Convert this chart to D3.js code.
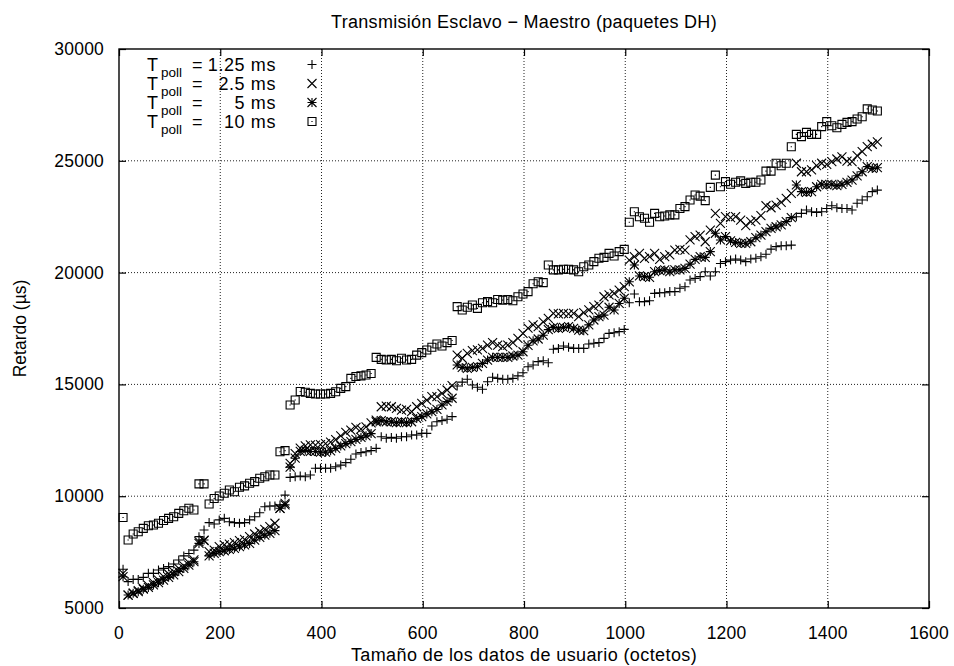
<!DOCTYPE html>
<html>
<head>
<meta charset="utf-8">
<script src="https://cdn.jsdelivr.net/npm/d3@7"></script>
<style>
  body { margin: 0; background: #fff; }
  text { font-family: "Liberation Sans", Arial, Helvetica, sans-serif; fill: #000; }
</style>
</head>
<body>
<div id="main"></div>
<script>
// tamaño de los datos de usuario (octetos)
const tamanos = [8,18,28,38,48,58,68,78,88,98,108,118,128,138,148,158,168,178,188,198,
208,218,228,238,248,258,268,278,288,298,308,318,328,338,348,358,368,378,388,398,
408,418,428,438,448,458,468,478,488,498,508,518,528,538,548,558,568,578,588,598,
608,618,628,638,648,658,668,678,688,698,708,718,728,738,748,758,768,778,788,798,
808,818,828,838,848,858,868,878,888,898,908,918,928,938,948,958,968,978,988,998,
1008,1018,1028,1038,1048,1058,1068,1078,1088,1098,1108,1118,1128,1138,1148,1158,1168,1178,1188,1198,
1208,1218,1228,1238,1248,1258,1268,1278,1288,1298,1308,1318,1328,1338,1348,1358,1368,1378,1388,1398,
1408,1418,1428,1438,1448,1458,1468,1478,1488,1498]

// retardo (us) para cada Tpoll
const retardo125 = [6730,6180,6280,6280,6370,6550,6550,6700,6770,6850,
6970,7150,7330,7440,7590,8190,8490,8820,8760,8940,
9010,8860,8820,8790,8820,8940,9080,9260,9530,9560,
9560,9610,10050,10840,10870,10900,10870,10950,11250,11250,
11250,11250,11320,11390,11500,11650,11890,11950,11990,12040,
12140,12660,12590,12630,12590,12660,12660,12740,12740,12810,
12810,13140,13330,13380,13440,13560,14930,15100,15230,14970,
14870,14780,15120,15320,15270,15230,15230,15270,15380,15520,
15790,15870,16020,16060,15970,16570,16610,16720,16660,16610,
16610,16610,16810,16840,16870,17060,17280,17310,17360,17460,
18650,19040,18700,18700,18740,19070,19100,19100,19150,19150,
19300,19370,19670,19740,19820,20040,19850,20040,20410,20490,
20560,20610,20560,20490,20610,20640,20710,20820,21050,21160,
21200,21200,21230,22500,22650,22800,22720,22690,22720,22870,
22990,22900,22870,22870,22800,23100,23250,23390,23620,23690]

const retardo25 = [6550,5580,5660,5780,5880,6000,6130,6250,6400,6520,
6630,6770,6880,7030,7150,7970,8010,7520,7590,7740,
7820,7860,7920,8010,8070,8190,8310,8410,8520,8640,
8790,9460,9680,11470,11900,12150,12250,12300,12280,12310,
12350,12420,12530,12700,12850,12960,13080,13000,13100,13280,
13400,14000,14030,14000,13930,13850,13880,13780,14000,14150,
14300,14450,14450,14600,14750,14950,16310,16170,16390,16510,
16540,16610,16760,16870,16760,16690,16760,16870,17060,17280,
17520,17660,17580,17800,17950,18180,18150,18180,18150,18180,
18030,18210,18330,18480,18550,18920,19000,19070,19220,19370,
20560,20710,20860,20640,20710,20860,20590,20710,20790,21010,
21040,21010,21460,21610,21680,21380,21900,22650,22200,22500,
22460,22500,22350,22100,22280,22350,22550,22990,22900,23020,
23140,23320,23540,24890,24510,24510,24590,24780,24890,24840,
24960,25080,25180,24990,24960,25230,25410,25630,25740,25850]

const retardo5 = [6400,5580,5660,5730,5840,5920,6030,6130,6250,6370,
6480,6630,6770,6920,7070,7890,8040,7330,7440,7520,
7560,7620,7670,7740,7820,7890,8040,8160,8260,8340,
8460,9460,9610,11300,11700,12000,12050,12000,12000,11970,
11970,12030,12140,12250,12350,12440,12540,12630,12700,12800,
13330,13380,13330,13330,13290,13330,13290,13330,13480,13560,
13680,13780,13880,14080,14230,14380,15870,15760,15720,15760,
15790,15940,16090,16210,16210,16210,16210,16270,16310,16460,
16750,16950,17030,17200,17450,17550,17510,17550,17580,17510,
17430,17400,17660,17880,18030,18100,18450,18330,18620,18850,
19590,20340,19850,19820,19790,20040,20090,20120,20040,20120,
20120,20190,20380,20590,20710,20680,20940,21760,21460,21610,
21420,21350,21310,21310,21380,21560,21680,21830,21980,22050,
22130,22280,22460,23920,23620,23590,23620,23840,23950,23920,
23950,23890,23950,24040,24140,24330,24510,24740,24660,24690]

const retardo10 = [9050,8040,8310,8410,8560,8680,8710,8790,8910,9010,
9080,9230,9350,9460,9380,10550,10550,9650,9900,10010,
10130,10280,10200,10400,10460,10580,10650,10800,10870,10950,
10950,11990,12040,14080,14300,14680,14650,14600,14570,14570,
14570,14600,14670,14820,14900,15270,15350,15380,15420,15490,
16210,16120,16090,16120,16060,16170,16090,16120,16310,16420,
16540,16660,16810,16720,16870,16960,18480,18330,18450,18550,
18400,18650,18700,18650,18800,18770,18800,18740,18920,19040,
19150,19500,19590,19550,20340,20120,20120,20150,20150,20120,
20040,20260,20340,20490,20640,20680,20860,20740,20940,21040,
22250,22720,22500,22430,22250,22650,22500,22530,22580,22580,
22870,22950,23250,23470,23420,23220,23810,24360,23840,24070,
23950,24040,24100,23990,24040,24040,24140,24540,24540,24890,
24780,24890,25630,26180,26080,26270,26180,26180,26530,26750,
26570,26480,26630,26720,26750,26870,26970,27320,27270,27230]

const leyenda = ["1.25 ms", "2.5 ms", "5 ms", "10 ms"]
const xTicks = [0,200,400,600,800,1000,1200,1400,1600]
const yTicks = [5000,10000,15000,20000,25000,30000]

const chart = {
    width: 954,
    height: 666,
    left: 119,
    right: 929,
    top: 49,
    bottom: 608
}

// formas de los puntos (estilo gnuplot)
const s = 4.5
const q = 4
const simbolos = [
    `M${-s},0H${s}M0,${-s}V${s}`,
    `M${-s},${-s}L${s},${s}M${-s},${s}L${s},${-s}`,
    `M${-s},0H${s}M0,${-s}V${s}M${-s},${-s}L${s},${s}M${-s},${s}L${s},${-s}`,
    `M${-q},${-q}H${q}V${q}H${-q}Z M-0.6,0H0.6`
]

function initViz()
{
    let svg = d3.select("#main").append("svg")
        .attr("width", chart.width)
        .attr("height", chart.height)

    svg.append("rect").attr("width", chart.width).attr("height", chart.height).attr("fill", "#fff")

    let x = d3.scaleLinear().domain([0, 1600]).range([chart.left, chart.right])
    let y = d3.scaleLinear().domain([5000, 30000]).range([chart.bottom, chart.top])

    // rejilla punteada
    svg.append("g").selectAll("line")
        .data(xTicks.slice(1, -1))
        .enter().append("line")
        .attr("x1", d => x(d)).attr("x2", d => x(d))
        .attr("y1", chart.top).attr("y2", chart.bottom)
        .attr("stroke", "#222").attr("stroke-width", 1).attr("stroke-dasharray", "1,2")

    svg.append("g").selectAll("line")
        .data(yTicks.slice(1, -1))
        .enter().append("line")
        .attr("x1", chart.left).attr("x2", chart.right)
        .attr("y1", d => y(d)).attr("y2", d => y(d))
        .attr("stroke", "#222").attr("stroke-width", 1).attr("stroke-dasharray", "1,2")

    // ejes con marcas hacia dentro (y espejo)
    let tick = 7
    svg.append("g").attr("transform", `translate(0,${chart.bottom})`)
        .call(d3.axisBottom(x).tickValues(xTicks).tickSize(-tick).tickFormat(""))
    svg.append("g").attr("transform", `translate(0,${chart.top})`)
        .call(d3.axisTop(x).tickValues(xTicks).tickSize(-tick).tickFormat(""))
    svg.append("g").attr("transform", `translate(${chart.left},0)`)
        .call(d3.axisLeft(y).tickValues(yTicks).tickSize(-tick).tickFormat(""))
    svg.append("g").attr("transform", `translate(${chart.right},0)`)
        .call(d3.axisRight(y).tickValues(yTicks).tickSize(-tick).tickFormat(""))
    svg.selectAll(".domain").remove()
    svg.selectAll(".tick line").attr("stroke", "#000").attr("stroke-width", 1.2)

    svg.append("rect")
        .attr("x", chart.left).attr("y", chart.top)
        .attr("width", chart.right - chart.left).attr("height", chart.bottom - chart.top)
        .attr("fill", "none").attr("stroke", "#000").attr("stroke-width", 1.4)

    // etiquetas de las marcas
    svg.append("g").selectAll("text")
        .data(xTicks)
        .enter().append("text")
        .attr("x", d => x(d)).attr("y", 639)
        .attr("text-anchor", "middle")
        .style("font-size", "17.5px").style("letter-spacing", "0.2px")
        .text(d => d)

    svg.append("g").selectAll("text")
        .data(yTicks)
        .enter().append("text")
        .attr("x", 104).attr("y", d => y(d) + 6)
        .attr("text-anchor", "end")
        .style("font-size", "17.5px").style("letter-spacing", "0.2px")
        .text(d => d)

    // titulos
    svg.append("text")
        .attr("x", (chart.left + chart.right) / 2).attr("y", 28)
        .attr("text-anchor", "middle")
        .style("font-size", "18px").style("letter-spacing", "0.3px")
        .text("Transmisión Esclavo − Maestro (paquetes DH)")

    svg.append("text")
        .attr("x", (chart.left + chart.right) / 2).attr("y", 661)
        .attr("text-anchor", "middle")
        .style("font-size", "18px").style("letter-spacing", "0.4px")
        .text("Tamaño de los datos de usuario (octetos)")

    svg.append("text")
        .attr("transform", `translate(26,${(chart.top + chart.bottom) / 2}) rotate(-90)`)
        .attr("text-anchor", "middle")
        .style("font-size", "17.5px")
        .text("Retardo (µs)")

    // series
    let series = [retardo125, retardo25, retardo5, retardo10]
    series.forEach((serie, i) => {
        svg.append("g").selectAll("path")
            .data(serie)
            .enter().append("path")
            .attr("transform", (d, j) => `translate(${x(tamanos[j])},${y(d)})`)
            .attr("d", simbolos[i])
            .attr("fill", "none")
            .attr("stroke", "#000")
            .attr("stroke-width", 1.1)
    })

    // leyenda
    let ley = svg.append("g")
    leyenda.forEach((lab, i) => {
        let cy = 64.5 + i * 19
        ley.append("text").attr("x", 147).attr("y", cy + 6.5).style("font-size", "18px").text("T")
        ley.append("text").attr("x", 161).attr("y", cy + 12.5).style("font-size", "13.5px").text("poll")
        ley.append("text").attr("x", 192).attr("y", cy + 6.5).style("font-size", "18px").text("=")
        ley.append("text").attr("x", 276).attr("y", cy + 6.5).attr("text-anchor", "end")
            .style("font-size", "18px").style("letter-spacing", "0.6px").text(lab)
        ley.append("path")
            .attr("transform", `translate(312,${cy})`)
            .attr("d", simbolos[i])
            .attr("fill", "none").attr("stroke", "#000").attr("stroke-width", 1.1)
    })
}

initViz()
</script>
</body>
</html>
